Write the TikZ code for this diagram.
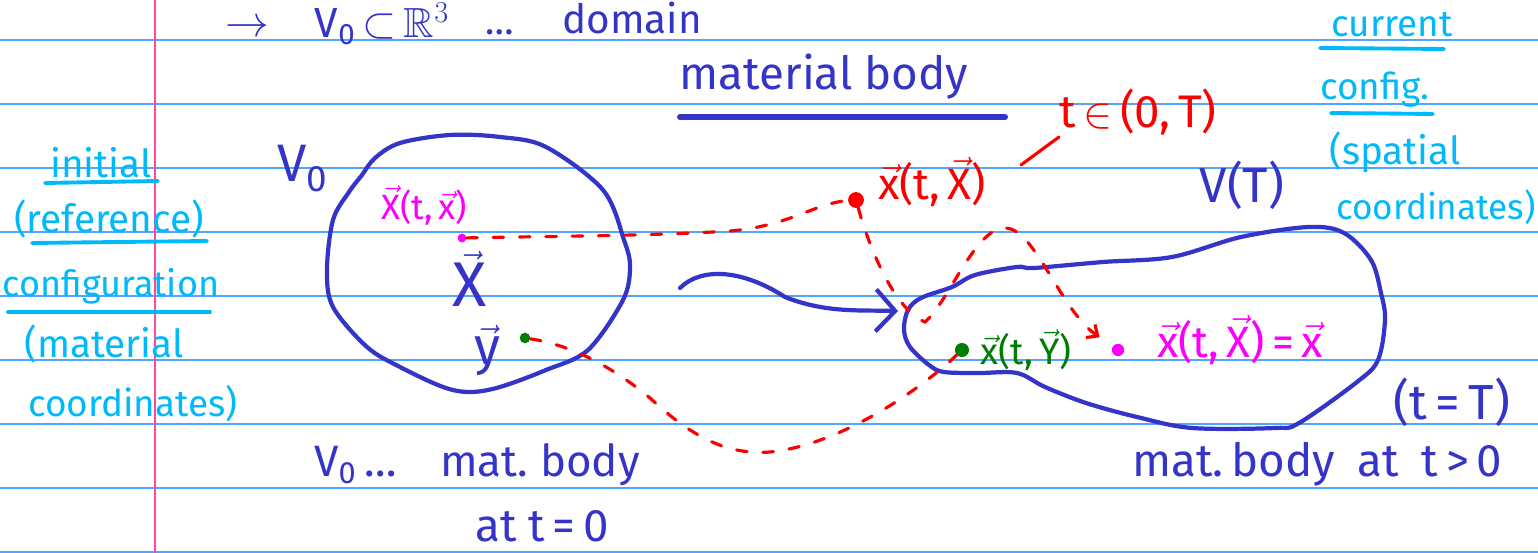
\documentclass[tikz,border=0pt]{standalone}
\usepackage{amsmath,amssymb}
\usepackage{fontspec}
\setmainfont{Fira Sans}
\usetikzlibrary{arrows.meta}
\definecolor{ink}{RGB}{52,52,200}
\definecolor{sky}{RGB}{0,185,250}
\definecolor{inkred}{RGB}{250,0,0}
\definecolor{inkmag}{RGB}{250,0,250}
\definecolor{inkgreen}{RGB}{0,125,0}
\definecolor{ruleblue}{RGB}{80,165,255}
\definecolor{marginpink}{RGB}{255,70,160}
\newcommand{\fsz}[1]{\fontsize{#1}{#1}\selectfont}
\newcommand{\vv}[1]{\ensuremath{\vec{\text{#1}}}}
\newcommand{\lo}[1]{\ensuremath{_{\text{#1}}}}
\begin{document}
\begin{tikzpicture}[x=0.02cm,y=-0.02cm,
  rule/.style={draw=ruleblue,line width=0.9pt},
  body/.style={draw=ink,line width=2.4pt,line join=round,line cap=round},
  txt/.style={inner sep=0pt,anchor=base},
  bluetxt/.style={txt,text=ink},
  skytxt/.style={txt,text=sky,font=\fsz{22}},
  uline/.style={line width=2.2pt,line cap=round},
  reddash/.style={draw=inkred,line width=1.8pt,dash pattern=on 6pt off 9pt,line cap=round},
  pt/.style={circle,inner sep=0pt,minimum size=#1},
]
\useasboundingbox (0,0) rectangle (1538,553);
\fill[white] (0,0) rectangle (1538,553);
% ruled paper
\foreach \yy in {40,104,168,232,296,360,424,488,552}
  \draw[rule] (0,\yy) -- (1538,\yy);
\draw[draw=marginpink,line width=1pt] (155,0) -- (155,553);

% top line
\node[bluetxt,font=\fsz{24}] (arrowtxt) at (247,37) {$\rightarrow$};
\node[bluetxt,font=\fsz{24}] (domainset) at (382,38) {V\lo{0}\,$\subset$\,$\mathbb{R}^{3}$};
\node[bluetxt,font=\fsz{22}] (dots) at (500,35) {\dots};
\node[bluetxt,font=\fsz{23}] (domain) at (632,34) {domain};

% title
\node[bluetxt,font=\fsz{26}] (title) at (824,90) {material body};
\draw[ink,line width=3.4pt,line cap=round] (680,117) -- (1005,117);

% left column
\node[skytxt] (initial) at (101,178) {initial};
\draw[sky,uline] (45,183) -- (158,181);
\node[skytxt] (reference) at (109,233) {(reference)};
\draw[sky,uline] (32,243) -- (207,241);
\node[skytxt,font=\fsz{20.5}] (configuration) at (111,297) {configuration};
\draw[sky,uline] (8,312) -- (210,312);
\node[skytxt] (material) at (104,358) {(material};
\node[skytxt,font=\fsz{21}] (coordsL) at (133,417) {coordinates)};

% right column
\node[skytxt,font=\fsz{21}] (current) at (1392,37) {current};
\draw[sky,uline] (1320,48) -- (1444,49);
\node[skytxt,font=\fsz{21}] (config) at (1375,100) {config.};
\draw[sky,uline] (1331,113) -- (1433,114);
\node[skytxt,font=\fsz{22}] (spatial) at (1395,165) {(spatial};
\node[skytxt,font=\fsz{20}] (coordsR) at (1436,220) {coordinates)};

% left body
\draw[body] plot[smooth cycle,tension=0.55] coordinates {
 (349,192) (362,175) (375,158) (400,143) (450,135) (500,137) (546,147)
 (603,190) (624,240) (630,267) (623,300) (588,350) (546,370) (500,387)
 (470,392) (443,387) (400,367) (367,347) (333,307) (327,270) (333,220)};
\node[bluetxt,font=\fsz{30}] (V0) at (303,182) {V\lo{0}};
\node[txt,text=inkmag,font=\fsz{20}] (Xtx) at (424,220) {\vv{X}(t,\,\vv{x})};
\node[bluetxt,font=\fsz{36}] (Xbig) at (470,307) {\vv{X}};
\node[bluetxt,font=\fsz{30}] (Ybig) at (487,365) {\vv{y}};
\node[pt=5pt,fill=inkmag] (dotM) at (462,238) {};
\node[pt=6pt,fill=inkgreen] (dotG) at (525,338) {};

% right body
\draw[body] plot[smooth cycle,tension=0.55] coordinates {
 (910,347) (904,330) (908,310) (921,298) (952,287) (975,275) (1017,267)
 (1034,268) (1103,262) (1172,257) (1241,237) (1309,227) (1344,233)
 (1371,260) (1381,293) (1385,320) (1378,360) (1357,382) (1299,423)
 (1275,428) (1192,428) (1137,417) (1086,403) (1045,387) (1017,373)
 (979,373) (944,372) (929,365)};
\node[bluetxt,font=\fsz{28}] (VT) at (1242,203) {V(T)};
\node[pt=9pt,fill=inkred] (dotR) at (856,200) {};
\node[txt,text=inkred,font=\fsz{25}] (xtX) at (932,200) {\vv{x}(t,\,\vv{X})};
\node[txt,text=inkred,font=\fsz{26}] (trange) at (1138,128) {t\,$\in$\,(0,\,T)};
\coordinate (tl1) at (1021,165);
\coordinate (tl2) at (1059,137);
\draw[inkred,line width=1.8pt,line cap=round] (tl1) -- (tl2);
\node[pt=7pt,fill=inkmag] (dotM2) at (1118,350) {};
\node[txt,text=inkmag,font=\fsz{25}] (xeq) at (1240,358) {\vv{x}(t,\,\vv{X})\,=\,\vv{x}};
\node[pt=8pt,fill=inkgreen] (dotG2) at (962,350) {};
\node[txt,text=inkgreen,font=\fsz{21}] (xtY) at (1026,365) {\vv{x}(t,\,\vv{Y})};

% mapping arrow
\coordinate (arrS) at (680,288);
\coordinate (c6) at (785,297);
\coordinate (arrE) at (898,311);
\draw[body,-{Straight Barb[length=11pt,width=24pt,line width=2.4pt]}]
  (arrS) .. controls (700,268) and (740,268) .. (c6)
  .. controls (825,313) and (860,310) .. (arrE);

% dashed trajectories
\coordinate (c1) at (730,231);
\draw[reddash] (dotM) .. controls (560,236) and (650,236) .. (c1)
  .. controls (790,226) and (815,203) .. (dotR);
\coordinate (c2) at (925,322);
\coordinate (c3) at (1005,228);
\draw[reddash,-{Straight Barb[length=5pt,width=9pt]},shorten >=9pt]
  (dotR) .. controls (870,250) and (895,310) .. (c2)
  .. controls (950,300) and (975,228) .. (c3)
  .. controls (1035,228) and (1060,310) .. (dotM2);
\coordinate (c4) at (650,398);
\coordinate (c5) at (770,452);
\draw[reddash] (dotG) .. controls (570,345) and (610,365) .. (c4)
  .. controls (695,440) and (730,455) .. (c5)
  .. controls (840,445) and (920,390) .. (dotG2);

% bottom captions
\node[bluetxt,font=\fsz{25}] (capL) at (477,477) {V\lo{0}\,\dots\quad mat.\ body};
\node[bluetxt,font=\fsz{26}] (capL2) at (542,541) {at t\,=\,0};
\node[bluetxt,font=\fsz{28}] (tT) at (1452,420) {(t\,=\,T)};
\node[bluetxt,font=\fsz{26}] (capR) at (1317,477) {mat.\,body\enspace at\enspace t\,>\,0};
\end{tikzpicture}
\end{document}
